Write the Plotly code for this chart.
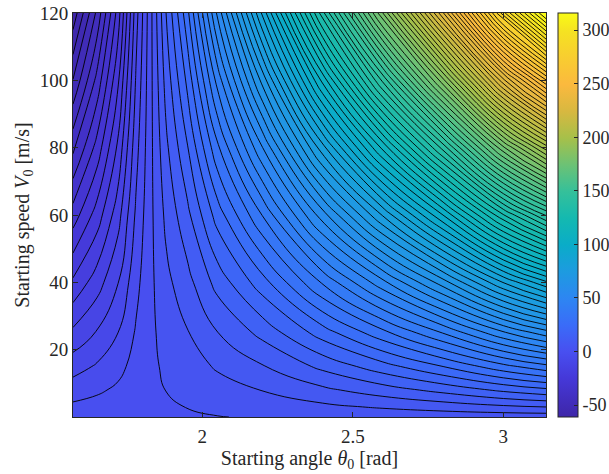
import plotly.graph_objects as go

# Starting angle theta0 [rad] (grid columns)
theta = [1.5708, 1.65, 1.72, 1.78, 1.83, 1.88, 1.95, 2.05, 2.2, 2.4, 2.6, 2.8, 3.0, 3.1416]
# Starting speed V0 [m/s] (grid rows)
speed = [0, 3, 8, 15, 25, 40, 60, 80, 100, 120]
# Values read/ (rows = speed, cols = theta)
z = [
    [0.00, 0.24, 0.45, 0.62, 0.77, 0.91, 1.11, 1.38, 1.77, 2.21, 2.58, 2.83, 2.97, 3.00],
    [-1.53, -0.93, -0.33, 0.32, 0.77, 1.14, 1.54, 2.20, 3.08, 4.40, 5.67, 6.92, 8.26, 9.05],
    [-4.08, -2.88, -1.63, -0.18, 0.77, 1.52, 2.27, 3.62, 5.35, 8.16, 10.98, 13.91, 17.28, 19.32],
    [-7.65, -5.61, -3.45, -0.88, 0.77, 2.08, 3.35, 5.70, 8.72, 13.69, 18.71, 24.05, 30.30, 34.13],
    [-12.75, -9.51, -6.05, -1.88, 0.77, 2.91, 4.99, 8.88, 13.90, 22.09, 30.39, 39.27, 49.72, 56.13],
    [-20.40, -15.36, -9.95, -3.38, 0.77, 4.23, 7.67, 14.10, 22.49, 35.81, 49.30, 63.71, 80.65, 91.00],
    [-30.60, -23.16, -15.15, -5.38, 0.77, 6.13, 11.67, 21.90, 35.49, 56.21, 77.10, 99.31, 125.25, 141.00],
    [-40.80, -30.96, -20.35, -7.38, 0.77, 8.19, 16.15, 30.66, 50.25, 79.01, 107.86, 138.35, 173.69, 195.00],
    [-51.00, -38.76, -25.55, -9.38, 0.77, 10.41, 21.11, 40.38, 66.77, 104.21, 141.58, 180.83, 225.97, 253.00],
    [-61.20, -46.56, -30.75, -11.38, 0.77, 12.79, 26.55, 51.06, 85.05, 131.81, 178.26, 226.75, 282.09, 315.00],
]

x_ticks = [2, 2.5, 3]
x_ticktext = ["2", "2.5", "3"]
y_ticks = [20, 40, 60, 80, 100, 120]
cb_ticks = [-50, 0, 50, 100, 150, 200, 250, 300]

zmin, zmax = -61.2, 316.0
parula = [
    [0.000, "#3e26a8"], [0.095, "#4538d8"], [0.161, "#484ff0"], [0.228, "#3a6cf8"],
    [0.294, "#2d86f2"], [0.360, "#1d9be0"], [0.426, "#0aacc8"], [0.492, "#14b9b0"],
    [0.558, "#35c09a"], [0.624, "#6cc275"], [0.690, "#a6c04a"], [0.757, "#d8b840"],
    [0.823, "#fbb93e"], [0.889, "#f8cd30"], [0.955, "#f5e222"], [1.000, "#f9fb15"],
]

font_family = "Liberation Serif"
ink = "#262626"

fig = go.Figure()
fig.add_trace(go.Contour(
    x=theta, y=speed, z=z,
    colorscale=parula, zmin=zmin, zmax=zmax, zauto=False, showscale=False,
    contours=dict(start=-58.68, end=313.24, size=3.76, coloring="fill", showlines=True),
    line=dict(color="black", width=0.9, smoothing=1.3),
    hoverinfo="skip",
))
# continuous colorbar (MATLAB style)
fig.add_trace(go.Scatter(
    x=[None], y=[None], mode="markers", hoverinfo="skip",
    marker=dict(
        color=[zmin], cmin=zmin, cmax=zmax, colorscale=parula, showscale=True,
        colorbar=dict(
            x=1.0245, xanchor="left", xpad=0, ypad=0,
            y=0.5, yanchor="middle", len=1, lenmode="fraction",
            thickness=20, outlinewidth=1, outlinecolor=ink,
            ticks="inside", ticklen=4, tickcolor=ink,
            tickvals=cb_ticks, ticktext=[str(v) for v in cb_ticks],
            tickfont=dict(family=font_family, size=18, color=ink),
        ),
    ),
))

axis_common = dict(
    showgrid=False, zeroline=False, showline=True, mirror="ticks", automargin=False,
    linecolor=ink, linewidth=1, ticks="inside", ticklen=5,
    tickcolor=ink, tickfont=dict(family=font_family, size=19, color=ink),
)

fig.update_layout(
    width=609, height=474,
    margin=dict(l=73, r=63, t=13, b=57, autoexpand=False),
    paper_bgcolor="white", plot_bgcolor="white",
    xaxis=dict(range=[1.5708, 3.1416], tickvals=x_ticks, ticktext=x_ticktext,
               ticklabelstandoff=2,
               title=dict(text="Starting angle <i>θ</i><sub>0</sub> [rad]",
                          font=dict(family=font_family, size=20, color=ink), standoff=4),
               **axis_common),
    yaxis=dict(range=[0, 120], tickvals=y_ticks, ticklabeloverflow="allow",
               title=dict(text="Starting speed <i>V</i><sub>0</sub> [m/s]",
                          font=dict(family=font_family, size=20, color=ink), standoff=4),
               **axis_common),
    showlegend=False,
)

# remove the default 8px page margin so the figure sits at the window's corner
fig.write_html("out.html", config={"displayModeBar": False},
               post_script="document.body.style.margin='0';")
